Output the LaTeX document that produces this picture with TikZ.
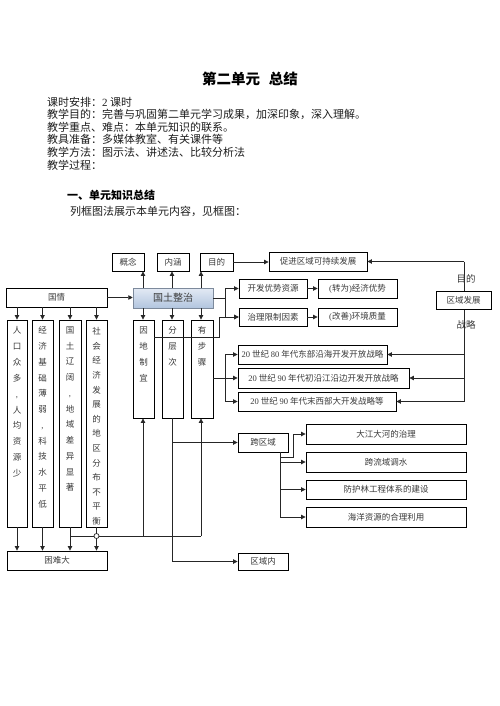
\documentclass[tikz,border=0pt]{standalone}
\usepackage{fontspec}
\setmainfont{Noto Sans CJK SC}
\newfontfamily\lat{Liberation Serif}
\usetikzlibrary{arrows.meta,calc}
\definecolor{ink}{HTML}{1E1E1E}
\definecolor{boxtext}{HTML}{3A3A3A}
\definecolor{gtop}{HTML}{E3EAF4}
\definecolor{gbot}{HTML}{B2C5DF}
\begin{document}
\begin{tikzpicture}[x=1pt,y=-1pt,
  box/.style={draw=black, line width=0.9pt, inner sep=0pt, font=\fontsize{8.5}{10}\selectfont, text=boxtext, fill=white},
  ln/.style={draw=black!85, line width=0.8pt},
  arr/.style={ln, -{Triangle[length=4.5pt,width=4.5pt]}},
  vtext/.style={anchor=north, align=center, inner sep=0pt, text=boxtext},
  body/.style={anchor=base west, inner sep=0pt, font=\fontsize{11}{13}\selectfont, text=ink},
  lbl/.style={inner sep=0pt, font=\fontsize{9.5}{11}\selectfont, text=boxtext}]
\fill[white] (0,0) rectangle (500,706);
\useasboundingbox (0,0) rectangle (500,706);

% ---------- header text ----------
\node[anchor=base, inner sep=0pt, font=\fontsize{14.5}{16}\selectfont\bfseries, text=black] (title) at (250,84.5) {第二单元\hspace{0.6em}总结};
\node[body] (l1) at (47,106.2) {课时安排：{\lat 2} 课时};
\node[body] (l2) at (47,118.7) {教学目的：完善与巩固第二单元学习成果，加深印象，深入理解。};
\node[body] (l3) at (47,131.2) {教学重点、难点：本单元知识的联系。};
\node[body] (l4) at (47,143.7) {教具准备：多媒体教室、有关课件等};
\node[body] (l5) at (47,156.2) {教学方法：图示法、讲述法、比较分析法};
\node[body] (l6) at (47,169.2) {教学过程：};
\node[body, font=\fontsize{11}{13}\selectfont\bfseries, text=black] (l7) at (67,199.2) {一、单元知识总结};
\node[body] (l8) at (70,215.2) {列框图法展示本单元内容，见框图：};

% ---------- boxes ----------
\node[box, minimum width=32pt, minimum height=18pt] (gainian) at (128,262) {概念};
\node[box, minimum width=32pt, minimum height=18pt] (neihan) at (173,262) {内涵};
\node[box, minimum width=33pt, minimum height=18pt] (mudi) at (216.5,262) {目的};
\node[box, minimum width=98pt, minimum height=19pt] (cujin) at (318,261.5) {促进区域可持续发展};
\node[box, minimum width=101pt, minimum height=19pt] (guoqing) at (56.5,297.5) {国情};
\node[draw=gbot!70!black, line width=0.5pt, top color=gtop, bottom color=gbot, inner sep=0pt,
      minimum width=80pt, minimum height=20pt, font=\fontsize{10}{12}\selectfont, text=boxtext] (gtzz) at (173,298) {国土整治};
\node[box, minimum width=68pt, minimum height=19pt] (kaifa) at (273,288.5) {开发优势资源};
\node[box, minimum width=79pt, minimum height=19pt] (jingji) at (357.5,288.5) {{\lat (}转为{\lat )}经济优势};
\node[box, minimum width=68pt, minimum height=18pt] (zhili) at (273,317) {治理限制因素};
\node[box, minimum width=79pt, minimum height=18pt] (huanjing) at (357.5,317) {{\lat (}改善{\lat )}环境质量};

\node[box, minimum width=20pt, minimum height=207pt] (c1) at (17,423.5) {};
\node[box, minimum width=21pt, minimum height=207pt] (c2) at (42.5,423.5) {};
\node[box, minimum width=22pt, minimum height=207pt] (c3) at (70,423.5) {};
\node[box, minimum width=21pt, minimum height=207pt] (c4) at (96.5,423.5) {};
\node[box, minimum width=21pt, minimum height=98pt] (ydzy) at (143.5,369) {};
\node[box, minimum width=21pt, minimum height=98pt] (fcc) at (172.5,369) {};
\node[box, minimum width=22pt, minimum height=98pt] (ybz) at (202,369) {};

\node[vtext, font=\fontsize{8.5}{15.85}\selectfont] (t1) at (17,326.5) {人\\口\\众\\多\\{\lat ,}\\人\\均\\资\\源\\少};
\node[vtext, font=\fontsize{8.5}{15.75}\selectfont] (t2) at (42.5,326.5) {经\\济\\基\\础\\薄\\弱\\{\lat ,}\\科\\技\\水\\平\\低};
\node[vtext, font=\fontsize{8.5}{15.75}\selectfont] (t3) at (70,326.5) {国\\土\\辽\\阔\\{\lat ,}\\地\\域\\差\\异\\显\\著};
\node[vtext, font=\fontsize{8.5}{14.6}\selectfont] (t4) at (96.5,327.3) {社\\会\\经\\济\\发\\展\\的\\地\\区\\分\\布\\不\\平\\衡};
\node[vtext, font=\fontsize{8.5}{15.9}\selectfont] (t5) at (143.5,326.5) {因\\地\\制\\宜};
\node[vtext, font=\fontsize{8.5}{15.9}\selectfont] (t6) at (172.5,326.5) {分\\层\\次};
\node[vtext, font=\fontsize{8.5}{15.9}\selectfont] (t7) at (202,326.5) {有\\步\\骤};

\node[box, minimum width=149pt, minimum height=19pt] (s80) at (312.5,354.5) {{\lat 20} 世纪 {\lat 80} 年代东部沿海开发开放战略};
\node[box, minimum width=171pt, minimum height=20pt] (s90a) at (323.5,378) {{\lat 20} 世纪 {\lat 90} 年代初沿江沿边开发开放战略};
\node[box, minimum width=158pt, minimum height=19pt] (s90b) at (317,401.5) {{\lat 20} 世纪 {\lat 90} 年代末西部大开发战略等};
\node[box, minimum width=50pt, minimum height=19pt] (kqy) at (263,442.5) {跨区域};
\node[box, minimum width=160pt, minimum height=20pt] (r1) at (386,434) {大江大河的治理};
\node[box, minimum width=160pt, minimum height=20pt] (r2) at (386,462) {跨流域调水};
\node[box, minimum width=160pt, minimum height=19pt] (r3) at (386,489.5) {防护林工程体系的建设};
\node[box, minimum width=160pt, minimum height=20pt] (r4) at (386,517) {海洋资源的合理利用};
\node[box, minimum width=100pt, minimum height=19pt] (knd) at (57,560.5) {困难大};
\node[box, minimum width=50pt, minimum height=17pt] (qyn) at (263,561.5) {区域内};

% ---------- connectors ----------
\coordinate (xA) at (143,0);
\coordinate (xB) at (172,0);
\coordinate (xC) at (201,0);
\draw[arr] (xA |- gtzz.north) -- (xA |- gainian.south);
\draw[arr] (xB |- gtzz.north) -- (xB |- neihan.south);
\draw[arr] (xC |- gtzz.north) -- (xC |- mudi.south);
\draw[arr] (xA |- gtzz.south) -- (xA |- ydzy.north);
\draw[arr] (xB |- gtzz.south) -- (xB |- fcc.north);
\draw[arr] (xC |- gtzz.south) -- (xC |- ybz.north);
\draw[arr] (mudi.east) -- (mudi.east -| cujin.west);
\draw[arr] (guoqing.east) -- (guoqing.east -| gtzz.west);
\foreach \c in {c1,c2,c3,c4}{
  \draw[arr] (\c |- guoqing.south) -- (\c.north);
  \draw[arr] (\c.south) -- (\c |- knd.north);
}
% junction below the columns
\coordinate (jy) at (0,536);
\draw[ln] (c3 |- jy) -- (xC |- jy);
\draw[arr] (xA |- jy) -- (xA |- ydzy.south);
\draw[arr] (xC |- jy) -- (xC |- ybz.south);
\node[draw=black!85, line width=0.7pt, fill=white, circle, inner sep=0pt, minimum size=5pt] (hop) at (c4 |- jy) {};
% 分层次 -> 跨区域 / 区域内
\draw[arr] (xB |- fcc.south) |- (qyn.west);
\draw[arr] (xB |- kqy.west) -- (kqy.west);
% 跨区域 -> right list
\coordinate (kx) at (280,0);
\coordinate (kb) at (280,457);
\coordinate (kb2) at (293,457);
\draw[ln] (kx |- kqy.south) -- (kx |- r4.west);
\draw[arr] (kb) -- (kb2) |- (r1.west);
\draw[arr] (kx |- r2.west) -- (r2.west);
\draw[arr] (kx |- r3.west) -- (r3.west);
\draw[arr] (kx |- r4.west) -- (r4.west);
% 国土整治 -> 开发 / 治理
\coordinate (g1) at (225,0);
\draw[ln] (gtzz.east) -- (g1 |- gtzz.east);
\draw[arr] (g1 |- gtzz.east) |- (kaifa.west);
\draw[arr] (g1 |- gtzz.east) |- (zhili.west);
\draw[arr] (kaifa.east) -- (kaifa.east -| jingji.west);
\draw[arr] (zhili.east) -- (zhili.east -| huanjing.west);
% 因地制宜 -> 治理
\coordinate (yl) at (219,337);
\draw[arr] (ydzy.east |- yl) -- (yl) |- (zhili.west);
% 有步骤 -> strategies
\coordinate (sx) at (225,0);
\coordinate (sy) at (0,378);
\draw[ln] (ybz.east |- sy) -- (sx |- sy);
\draw[ln] (sx |- s80.west) -- (sx |- s90b.west);
\draw[arr] (sx |- s80.west) -- (s80.west);
\draw[arr] (sx |- s90a.west) -- (s90a.west);
\draw[arr] (sx |- s90b.west) -- (s90b.west);
% right spine
\coordinate (rx) at (464,0);
\draw[arr] (rx |- cujin.east) -- (cujin.east);
\draw[ln] (rx |- cujin.east) -- (rx |- s90b.east);
\draw[arr] (rx |- s80.east) -- (s80.east);
\draw[arr] (rx |- s90a.east) -- (s90a.east);
\draw[arr] (rx |- s90b.east) -- (s90b.east);
\node[box, minimum width=55pt, minimum height=18pt] (qyfz) at (463.5,300) {区域发展};
\node[lbl] (mdlbl) at (466,278.5) {目的};
\node[lbl] (zllbl) at (466,325) {战略};
\end{tikzpicture}
\end{document}
